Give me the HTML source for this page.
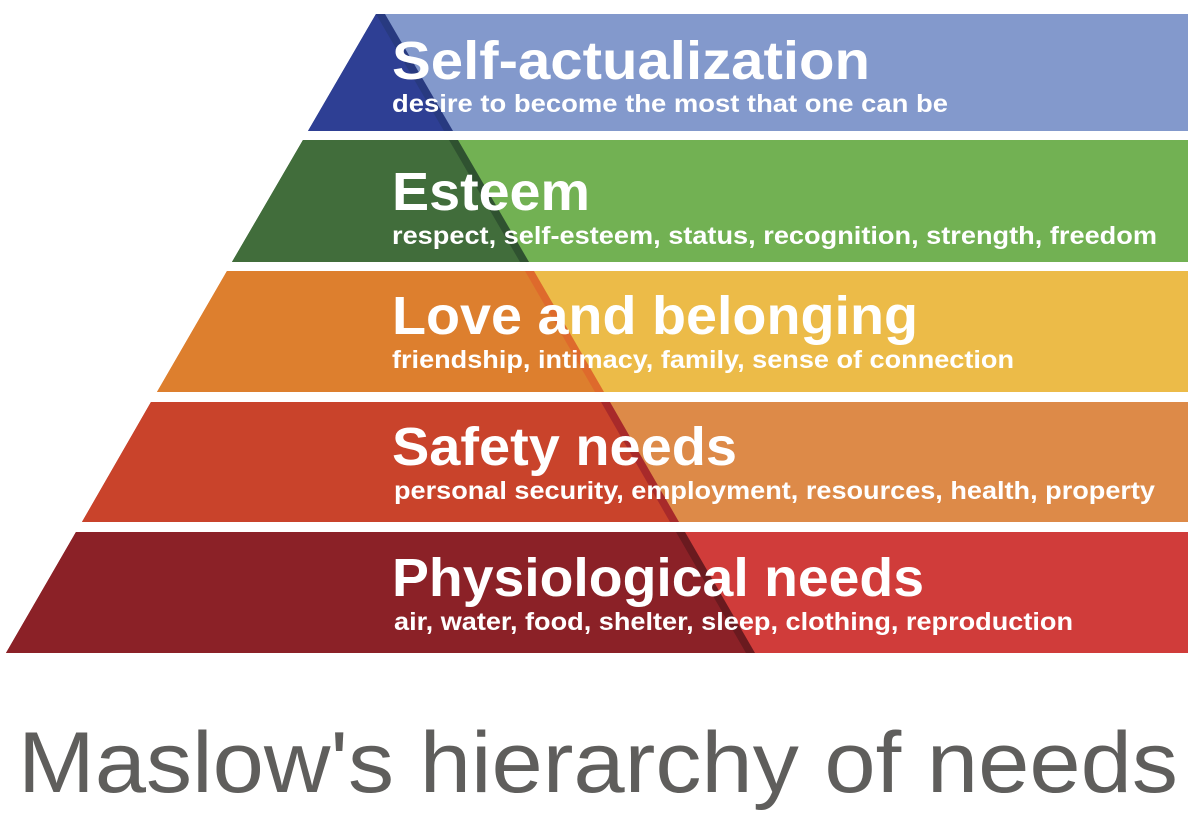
<!DOCTYPE html>
<html><head><meta charset="utf-8"><style>
html,body{margin:0;padding:0;background:#fff;width:1200px;height:818px;overflow:hidden}
svg{display:block}
.t{font-family:"Liberation Sans",sans-serif;font-weight:bold;fill:#fff}
</style></head><body>
<svg width="1200" height="818" viewBox="0 0 1200 818" xmlns="http://www.w3.org/2000/svg">
<!-- left edge L(y)=376-0.579*(y-14); diagonal D(y)=376+0.579*(y-14) -->
<!-- band1 14-131 -->
<polygon points="376,14 1188,14 1188,131 308,131" fill="#8399cc"/>
<polygon points="376,14 385,14 453,131 308,131" fill="#283a80"/>
<polygon points="376,14 444,131 308,131" fill="#2e3f94"/>
<!-- band2 140-262 -->
<polygon points="303,140 1188,140 1188,262 232,262" fill="#72b153"/>
<polygon points="303,140 458,140 529,262 232,262" fill="#2f5230"/>
<polygon points="303,140 449,140 520,262 232,262" fill="#416d3b"/>
<!-- band3 271-392 -->
<polygon points="227,271 1188,271 1188,392 157,392" fill="#ecbb48"/>
<polygon points="227,271 534,271 604,392 157,392" fill="#de6a2c"/>
<polygon points="227,271 525,271 595,392 157,392" fill="#dd7f2e"/>
<!-- band4 402-522 -->
<polygon points="151,402 1188,402 1188,522 82,522" fill="#dd8a48"/>
<polygon points="151,402 610,402 679,522 82,522" fill="#a82a2a"/>
<polygon points="151,402 601,402 670,522 82,522" fill="#c9432b"/>
<!-- band5 532-653 -->
<polygon points="76,532 1188,532 1188,653 6,653" fill="#d03c3a"/>
<polygon points="76,532 685,532 755,653 6,653" fill="#6a1a1f"/>
<polygon points="76,532 676,532 746,653 6,653" fill="#8b2127"/>

<text class="t" x="392" y="79" font-size="54" textLength="478" lengthAdjust="spacingAndGlyphs">Self-actualization</text>
<text class="t" x="392" y="112" font-size="25" textLength="556" lengthAdjust="spacingAndGlyphs">desire to become the most that one can be</text>
<text class="t" x="392" y="210" font-size="54" textLength="198" lengthAdjust="spacingAndGlyphs">Esteem</text>
<text class="t" x="392" y="244" font-size="25" textLength="765" lengthAdjust="spacingAndGlyphs">respect, self-esteem, status, recognition, strength, freedom</text>
<text class="t" x="392" y="334" font-size="54" textLength="526" lengthAdjust="spacingAndGlyphs">Love and belonging</text>
<text class="t" x="392" y="368" font-size="25" textLength="622" lengthAdjust="spacingAndGlyphs">friendship, intimacy, family, sense of connection</text>
<text class="t" x="392" y="465" font-size="54" textLength="345" lengthAdjust="spacingAndGlyphs">Safety needs</text>
<text class="t" x="394" y="499" font-size="25" textLength="761" lengthAdjust="spacingAndGlyphs">personal security, employment, resources, health, property</text>
<text class="t" x="392" y="596" font-size="54" textLength="532" lengthAdjust="spacingAndGlyphs">Physiological needs</text>
<text class="t" x="394" y="630" font-size="25" textLength="679" lengthAdjust="spacingAndGlyphs">air, water, food, shelter, sleep, clothing, reproduction</text>

<text x="18" y="792" font-family="Liberation Sans, sans-serif" font-size="86" fill="#5f5e5c" textLength="1160" lengthAdjust="spacingAndGlyphs">Maslow's hierarchy of needs</text>
</svg>
</body></html>
